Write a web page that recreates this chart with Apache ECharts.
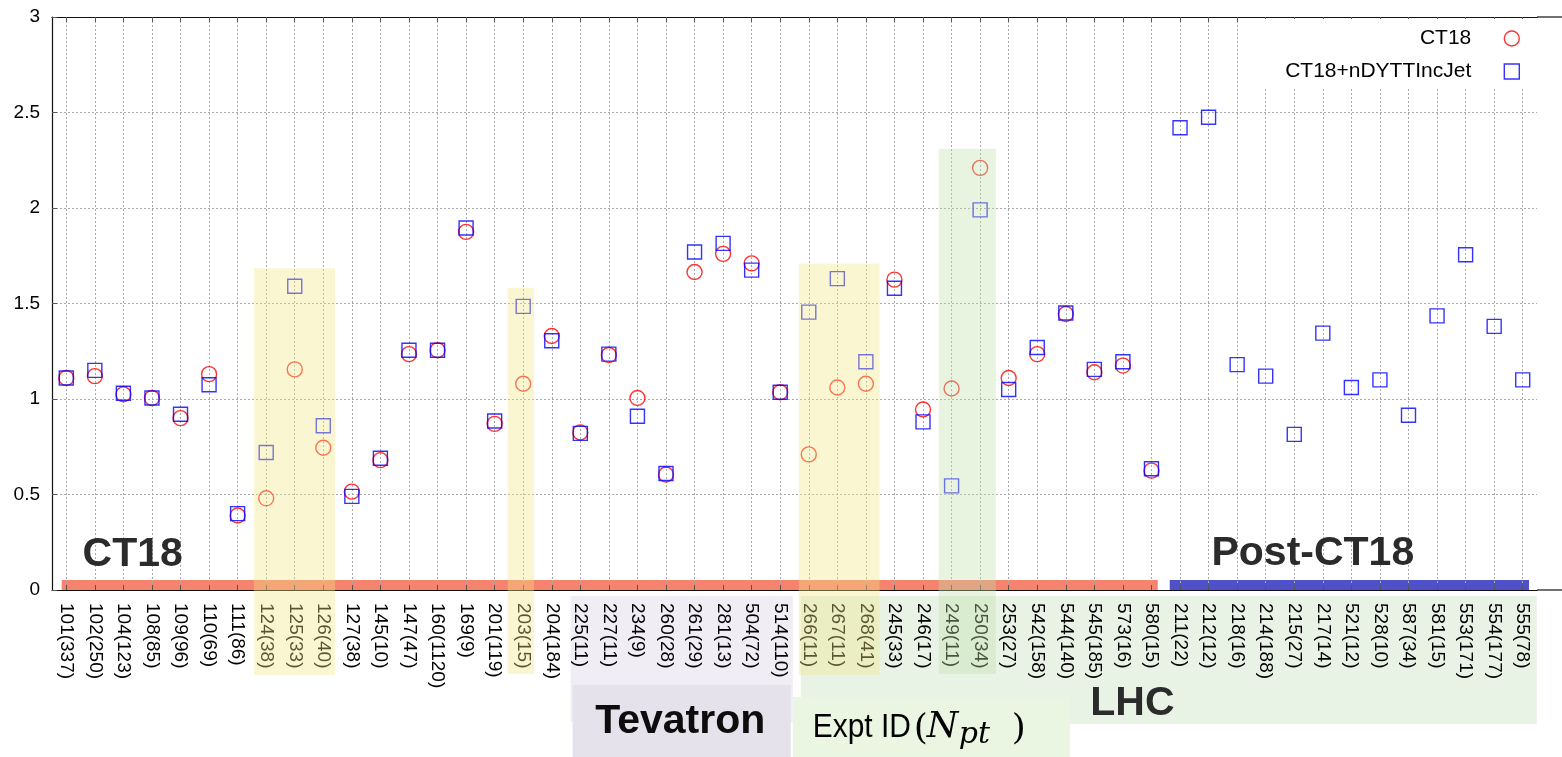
<!DOCTYPE html>
<html>
<head>
<meta charset="utf-8">
<title>Expt ID (Npt)</title>
<script src="https://cdn.jsdelivr.net/npm/echarts@6/dist/echarts.min.js"></script>
<style>
  html, body { margin: 0; padding: 0; background: #fff; }
  #chart { width: 1562px; height: 757px; }
</style>
</head>
<body>
<div id="chart"></div>
<script>
// Experiment IDs with number of points, in plotting order
const experiments = [
  '101(337)', '102(250)', '104(123)', '108(85)', '109(96)', '110(69)', '111(86)',
  '124(38)', '125(33)', '126(40)', '127(38)', '145(10)', '147(47)', '160(1120)',
  '169(9)', '201(119)', '203(15)', '204(184)', '225(11)', '227(11)', '234(9)',
  '260(28)', '261(29)', '281(13)', '504(72)', '514(110)', '266(11)', '267(11)',
  '268(41)', '245(33)', '246(17)', '249(11)', '250(34)', '253(27)', '542(158)',
  '544(140)', '545(185)', '573(16)', '580(15)', '211(22)', '212(12)', '218(16)',
  '214(188)', '215(27)', '217(14)', '521(12)', '528(10)', '587(34)', '581(15)',
  '553(171)', '554(177)', '555(78)'
];

// chi^2/Npt for CT18 (no values for the post-CT18 sets)
const ct18 = [
  1.11, 1.12, 1.025, 1.005, 0.90, 1.13, 0.39,
  0.48, 1.155, 0.745, 0.515, 0.68, 1.235, 1.255,
  1.875, 0.87, 1.08, 1.33, 0.825, 1.23, 1.005,
  0.605, 1.665, 1.76, 1.71, 1.035, 0.71, 1.06,
  1.08, 1.625, 0.945, 1.055, 2.21, 1.11, 1.235,
  1.445, 1.14, 1.175, 0.625, null, null, null,
  null, null, null, null, null, null, null,
  null, null, null
];

// chi^2/Npt for CT18+nDYTTIncJet
const ct18nDY = [
  1.11, 1.15, 1.03, 1.005, 0.92, 1.075, 0.40,
  0.72, 1.59, 0.86, 0.49, 0.69, 1.255, 1.255,
  1.895, 0.885, 1.485, 1.305, 0.82, 1.235, 0.91,
  0.61, 1.77, 1.815, 1.675, 1.035, 1.455, 1.63,
  1.195, 1.58, 0.88, 0.545, 1.99, 1.05, 1.27,
  1.45, 1.155, 1.195, 0.635, 2.42, 2.475, 1.18,
  1.12, 0.815, 1.345, 1.06, 1.10, 0.915, 1.435,
  1.755, 1.38, 1.10
];

const FONT = 'Liberation Sans';
const gridLineStyle = { color: '#a9a9a9', type: [2, 2], width: 1 };

const chart = echarts.init(document.getElementById('chart'), null, { renderer: 'canvas' });

const option = {
  animation: false,
  backgroundColor: '#fff',
  grid: { left: 52, right: 25, top: 17, bottom: 167 },
  legend: {
    orient: 'vertical',
    right: 25,
    top: 19,
    align: 'right',
    selectedMode: false,
    backgroundColor: '#fff',
    padding: [9, 17, 7, 38],
    itemGap: 12,
    itemWidth: 15,
    itemHeight: 15,
    z: 12,
    textStyle: { fontSize: 21, color: '#000', fontFamily: FONT, padding: [0, 28, 0, 0] },
    data: [
      { name: 'CT18', icon: 'circle',
        itemStyle: { color: 'rgba(0,0,0,0)', borderColor: '#ff0000', borderWidth: 1.4 } },
      { name: 'CT18+nDYTTIncJet', icon: 'rect',
        itemStyle: { color: 'rgba(0,0,0,0)', borderColor: '#0000ff', borderWidth: 1.4 } }
    ]
  },
  xAxis: [
    {
      type: 'category',
      data: experiments,
      position: 'bottom',
      boundaryGap: true,
      z: 3,
      axisLine: { show: true, lineStyle: { color: '#111', width: 1.2 } },
      axisTick: { show: true, inside: true, alignWithLabel: true, interval: 0, length: 5,
                  lineStyle: { color: '#555' } },
      axisLabel: { interval: 0, rotate: -90, margin: 13, fontSize: 19, color: '#000', fontFamily: FONT },
      splitLine: { show: true, interval: 0, alignWithLabel: true, lineStyle: gridLineStyle }
    },
    {
      type: 'category',
      data: experiments,
      position: 'top',
      boundaryGap: true,
      z: 3,
      axisLine: { show: true, lineStyle: { color: '#111', width: 1.2 } },
      axisTick: { show: true, inside: true, alignWithLabel: true, interval: 0, length: 5,
                  lineStyle: { color: '#555' } },
      axisLabel: { show: false },
      splitLine: { show: false }
    }
  ],
  yAxis: {
    type: 'value',
    min: 0,
    max: 3,
    interval: 0.5,
    z: 3,
    axisLine: { show: true, lineStyle: { color: '#111', width: 1.2 } },
    axisTick: { show: true, inside: true, length: 5, lineStyle: { color: '#555' } },
    axisLabel: { fontSize: 19, margin: 12, color: '#000', fontFamily: FONT },
    splitLine: { show: true, lineStyle: gridLineStyle }
  },
  series: [
    {
      name: 'CT18',
      type: 'scatter',
      data: ct18,
      symbol: 'circle',
      symbolSize: 15,
      z: 4,
      itemStyle: { color: 'rgba(0,0,0,0)', borderColor: '#ff0000', borderWidth: 1.4 },
      emphasis: { disabled: true }
    },
    {
      name: 'CT18+nDYTTIncJet',
      type: 'scatter',
      data: ct18nDY,
      symbol: 'rect',
      symbolSize: 14,
      z: 4,
      itemStyle: { color: 'rgba(0,0,0,0)', borderColor: '#0000ff', borderWidth: 1.4 },
      emphasis: { disabled: true }
    }
  ]
};

chart.setOption(option);

// Annotation layer, anchored to the axes through the chart's own scales
const px = (i) => chart.convertToPixel({ xAxisIndex: 0 }, experiments[i]);
const py = (v) => chart.convertToPixel({ yAxisIndex: 0 }, v);
const step = px(1) - px(0);
const y0 = py(0);
const yTop = py(3);
const xRight = px(experiments.length - 1) + step / 2;

function rect(i0, i1, padL, padR, yA, yB, fill, z) {
  const x1 = px(i0) - padL * step;
  const x2 = px(i1) + padR * step;
  return {
    type: 'rect', silent: true, z: z,
    shape: { x: x1, y: Math.min(yA, yB), width: x2 - x1, height: Math.abs(yB - yA) },
    style: { fill: fill }
  };
}

function label(text, x, y, opts) {
  return {
    type: 'text', silent: true, z: opts.z || 8, x: x, y: y,
    scaleX: opts.scaleX || 1,
    style: Object.assign({
      text: text, fill: '#000', fontFamily: FONT, fontSize: 19,
      align: 'left', verticalAlign: 'middle'
    }, opts.style)
  };
}

const YELLOW = 'rgba(241,231,133,0.37)';
const GREEN = 'rgba(193,225,171,0.37)';
const H = 757;

const graphics = [
  // label-area backgrounds for the Tevatron and LHC groups
  rect(18, 25, 0.34, 0.44, y0 + 6, y0 + 132, '#f0edf4', 1),
  rect(18, 25, 0.27, 0.37, y0 + 95, H, '#e6e2eb', 1),
  rect(26, 51, 0.28, 0.49, y0 + 6, y0 + 134, '#e8f3e6', 1),
  rect(26, 35, 0.56, 0.14, y0 + 107, H, '#eaf5e2', 1),

  // data-set group bars along the baseline
  rect(0, 38, 0.16, 0.22, y0, py(0.052), '#f6836d', 2),
  rect(39, 51, 0.36, 0.22, y0, py(0.052), '#5050c8', 2),

  // frame lines continuing past the last category
  { type: 'line', silent: true, z: 3,
    shape: { x1: xRight, y1: yTop, x2: 1562, y2: yTop }, style: { stroke: '#111', lineWidth: 1.2 } },
  { type: 'line', silent: true, z: 3,
    shape: { x1: xRight, y1: y0, x2: 1562, y2: y0 }, style: { stroke: '#111', lineWidth: 1.2 } },

  // group titles
  label('CT18', px(0) + 0.57 * step, y0 - 35,
        { style: { fontSize: 41, fontWeight: 'bold', fill: '#2b2b2b' } }),
  label('Post-CT18', px(39) + 1.1 * step, y0 - 36,
        { style: { fontSize: 41, fontWeight: 'bold', fill: '#2b2b2b' } }),
  label('Tevatron', (px(18) + px(25)) / 2, y0 + 132,
        { style: { fontSize: 41, fontWeight: 'bold', fill: '#0d0d0d', align: 'center' } }),
  label('LHC', px(37) + 9.5, y0 + 114,
        { style: { fontSize: 41, fontWeight: 'bold', fill: '#2b2b2b', align: 'center' } }),

  // axis title: Expt ID (N_pt)
  label('Expt ID', px(26) + 4, y0 + 137.5, { scaleX: 0.88, style: { fontSize: 34 } }),
  label('(', px(26) + 105, y0 + 140, { style: { fontSize: 36, fontFamily: 'DejaVu Serif' } }),
  label('N', px(26) + 118, y0 + 137.5,
        { style: { fontSize: 36, fontFamily: 'DejaVu Serif', fontStyle: 'italic' } }),
  label('pt', px(26) + 150, y0 + 145,
        { style: { fontSize: 30, fontFamily: 'DejaVu Serif', fontStyle: 'italic' } }),
  label(')', px(26) + 203, y0 + 140, { style: { fontSize: 36, fontFamily: 'DejaVu Serif' } }),

  // highlighted columns (drawn translucent over marks and labels)
  rect(7, 9, 0.43, 0.41, py(1.684), y0 + 85, YELLOW, 10),
  rect(16, 16, 0.54, 0.38, py(1.583), y0 + 84, YELLOW, 10),
  rect(26, 28, 0.35, 0.48, py(1.709), y0 + 85, YELLOW, 10),
  rect(31, 32, 0.45, 0.55, py(2.31), y0 + 84, GREEN, 10)
];

chart.setOption({ graphic: { elements: graphics } });
</script>
</body>
</html>
